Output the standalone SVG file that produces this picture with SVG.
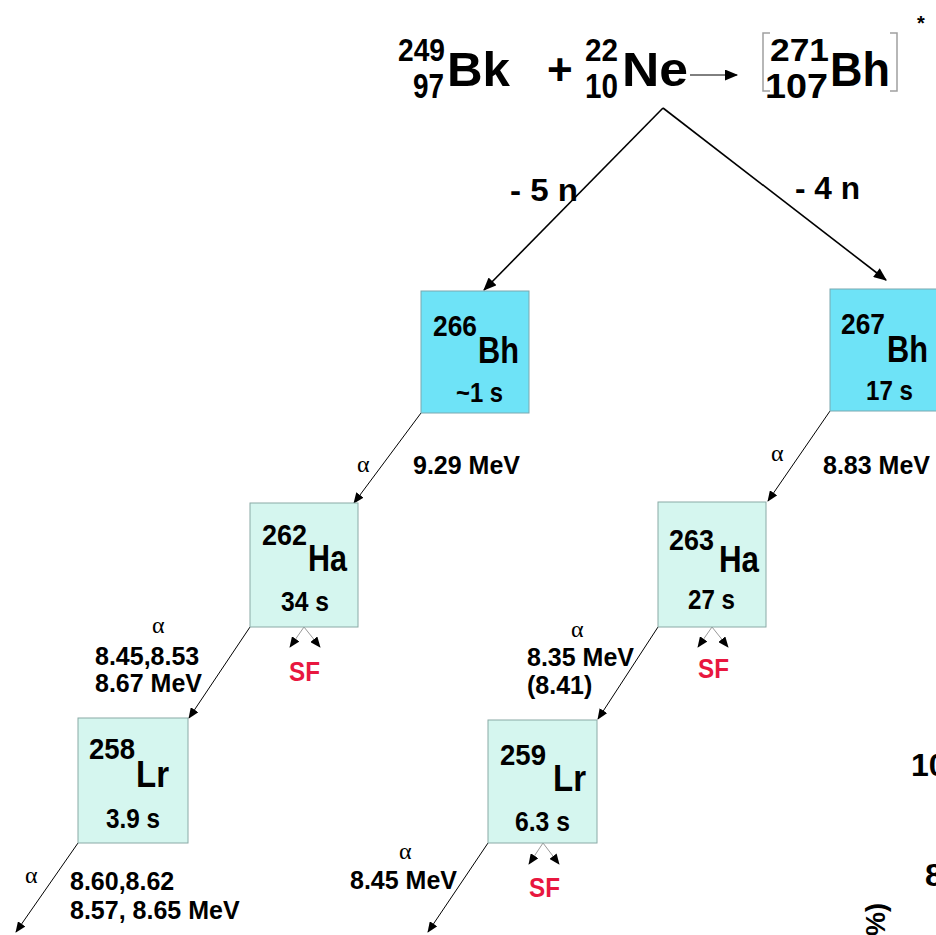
<svg xmlns="http://www.w3.org/2000/svg" width="936" height="935" viewBox="0 0 936 935">
<style>
text{font-family:"Liberation Sans",Arial,sans-serif;font-weight:bold;fill:#000}
.sup{font-size:32px}
.sub{font-size:35px}
.big{font-size:48px}
.mass{font-size:30px}
.sym{font-size:37px}
.hl{font-size:28px}
.en{font-size:25px}
.al{font-family:"Liberation Serif","Times New Roman",serif;font-weight:normal;font-size:24px}
.sf{font-size:27px;fill:#e8173f}
.n{font-size:31px}
.b1{fill:#6ee3f7;stroke:#7aa8b0;stroke-width:1}
.b2{fill:#d5f6ef;stroke:#8aaaa6;stroke-width:1}
.main{stroke:#000;stroke-width:1.6;fill:none}
.alp{stroke:#000;stroke-width:1;fill:none}
.sfl{stroke:#999;stroke-width:1;fill:none}
.brk{stroke:#a0a0a0;stroke-width:1.5;fill:none}
</style>
<defs>
<marker id="ah" viewBox="0 0 12 10" refX="11" refY="5" markerWidth="14" markerHeight="11" markerUnits="userSpaceOnUse" orient="auto"><path d="M0,0 L12,5 L0,10 Z" fill="#000"/></marker>
<marker id="as" viewBox="0 0 12 10" refX="11" refY="5" markerWidth="11" markerHeight="9" markerUnits="userSpaceOnUse" orient="auto"><path d="M0,0 L12,5 L0,10 Z" fill="#000"/></marker>
</defs>
<g id="reaction">
<text class="sup" x="398" y="61" textLength="47" lengthAdjust="spacingAndGlyphs">249</text>
<text class="sub" x="413" y="98" textLength="31" lengthAdjust="spacingAndGlyphs">97</text>
<text class="big" x="447" y="86" textLength="63" lengthAdjust="spacingAndGlyphs">Bk</text>
<text style="font-size:44px" x="547" y="85">+</text>
<text class="sup" x="585" y="61" textLength="33" lengthAdjust="spacingAndGlyphs">22</text>
<text class="sub" x="585" y="98" textLength="33" lengthAdjust="spacingAndGlyphs">10</text>
<text class="big" x="622" y="86" textLength="66" lengthAdjust="spacingAndGlyphs">Ne</text>
<polyline class="brk" points="770,33 763,33 763,91 770,91"/>
<text class="sup" x="770" y="61" textLength="59" lengthAdjust="spacingAndGlyphs">271</text>
<text class="sub" x="765" y="98" textLength="63" lengthAdjust="spacingAndGlyphs">107</text>
<text class="big" x="830" y="86" textLength="60" lengthAdjust="spacingAndGlyphs">Bh</text>
<polyline class="brk" points="890,33 897,33 897,91 890,91"/>
<text style="font-size:20px" x="917" y="30">*</text>
</g>
<g id="connectors">
<line class="alp" x1="690" y1="75" x2="737" y2="75" marker-end="url(#ah)" stroke-width="1.5"/>
<line class="main" x1="663" y1="108" x2="484" y2="290" marker-end="url(#ah)"/>
<line class="main" x1="663" y1="108" x2="886" y2="280" marker-end="url(#ah)"/>
<line class="alp" x1="421" y1="413" x2="354" y2="503" marker-end="url(#as)"/>
<line class="alp" x1="250" y1="627" x2="189" y2="718" marker-end="url(#as)"/>
<line class="alp" x1="78" y1="843" x2="16" y2="932" marker-end="url(#as)"/>
<line class="alp" x1="830" y1="411" x2="768" y2="501" marker-end="url(#as)"/>
<line class="alp" x1="658" y1="627" x2="598" y2="719" marker-end="url(#as)"/>
<line class="alp" x1="488" y1="843" x2="428" y2="932" marker-end="url(#as)"/>
<line class="sfl" x1="304" y1="627" x2="290" y2="647" marker-end="url(#as)"/>
<line class="sfl" x1="304" y1="627" x2="320" y2="647" marker-end="url(#as)"/>
<line class="sfl" x1="712" y1="627" x2="698" y2="647" marker-end="url(#as)"/>
<line class="sfl" x1="712" y1="627" x2="728" y2="647" marker-end="url(#as)"/>
<line class="sfl" x1="543" y1="843" x2="529" y2="864" marker-end="url(#as)"/>
<line class="sfl" x1="543" y1="843" x2="559" y2="864" marker-end="url(#as)"/>
</g>
<g id="labels">
<text class="n" x="510" y="201" textLength="68" lengthAdjust="spacingAndGlyphs">- 5 n</text>
<text class="n" x="795" y="199" textLength="65" lengthAdjust="spacingAndGlyphs">- 4 n</text>
<text class="al" x="357" y="472">α</text>
<text class="en" x="413" y="474">9.29 MeV</text>
<text class="al" x="771" y="461">α</text>
<text class="en" x="823" y="474">8.83 MeV</text>
<text class="al" x="152" y="633">α</text>
<text class="en" x="95" y="665">8.45,8.53</text>
<text class="en" x="95" y="692">8.67  MeV</text>
<text class="al" x="571" y="637">α</text>
<text class="en" x="527" y="666">8.35 MeV</text>
<text class="en" x="527" y="694">(8.41)</text>
<text class="al" x="25" y="883">α</text>
<text class="en" x="70" y="890">8.60,8.62</text>
<text class="en" x="70" y="919">8.57, 8.65 MeV</text>
<text class="al" x="399" y="859">α</text>
<text class="en" x="350" y="889">8.45 MeV</text>
<text class="sf" x="289" y="681" textLength="31" lengthAdjust="spacingAndGlyphs">SF</text>
<text class="sf" x="698" y="678" textLength="31" lengthAdjust="spacingAndGlyphs">SF</text>
<text class="sf" x="529" y="897" textLength="31" lengthAdjust="spacingAndGlyphs">SF</text>
</g>
<g id="Bh266">
<rect class="b1" x="421" y="291" width="108" height="122"/>
<text class="mass" x="433" y="336" textLength="44" lengthAdjust="spacingAndGlyphs">266</text>
<text class="sym" x="478" y="363" textLength="41" lengthAdjust="spacingAndGlyphs">Bh</text>
<text class="hl" x="456" y="402" textLength="47" lengthAdjust="spacingAndGlyphs">~1 s</text>
</g>
<g id="Bh267">
<rect class="b1" x="830" y="289" width="110" height="122"/>
<text class="mass" x="841" y="334" textLength="44" lengthAdjust="spacingAndGlyphs">267</text>
<text class="sym" x="887" y="362" textLength="41" lengthAdjust="spacingAndGlyphs">Bh</text>
<text class="hl" x="866" y="400" textLength="47" lengthAdjust="spacingAndGlyphs">17 s</text>
</g>
<g id="Ha262">
<rect class="b2" x="250" y="503" width="108" height="124"/>
<text class="mass" x="262" y="545" textLength="45" lengthAdjust="spacingAndGlyphs">262</text>
<text class="sym" x="308" y="571" textLength="39" lengthAdjust="spacingAndGlyphs">Ha</text>
<text class="hl" x="281" y="611" textLength="48" lengthAdjust="spacingAndGlyphs">34 s</text>
</g>
<g id="Ha263">
<rect class="b2" x="658" y="502" width="108" height="125"/>
<text class="mass" x="669" y="550" textLength="45" lengthAdjust="spacingAndGlyphs">263</text>
<text class="sym" x="719" y="572" textLength="40" lengthAdjust="spacingAndGlyphs">Ha</text>
<text class="hl" x="688" y="609" textLength="47" lengthAdjust="spacingAndGlyphs">27 s</text>
</g>
<g id="Lr258">
<rect class="b2" x="78" y="718" width="110" height="125"/>
<text class="mass" x="89" y="759" textLength="46" lengthAdjust="spacingAndGlyphs">258</text>
<text class="sym" x="136" y="787" textLength="33" lengthAdjust="spacingAndGlyphs">Lr</text>
<text class="hl" x="106" y="828" textLength="54" lengthAdjust="spacingAndGlyphs">3.9 s</text>
</g>
<g id="Lr259">
<rect class="b2" x="488" y="720" width="109" height="123"/>
<text class="mass" x="500" y="765" textLength="46" lengthAdjust="spacingAndGlyphs">259</text>
<text class="sym" x="553" y="791" textLength="33" lengthAdjust="spacingAndGlyphs">Lr</text>
<text class="hl" x="515" y="831" textLength="55" lengthAdjust="spacingAndGlyphs">6.3 s</text>
</g>
<g id="edge">
<text style="font-size:32px" x="911" y="776">10</text>
<text style="font-size:32px" x="925" y="886">8</text>
<text style="font-size:27px" transform="translate(885,936) rotate(-90)">%)</text>
</g>
</svg>
